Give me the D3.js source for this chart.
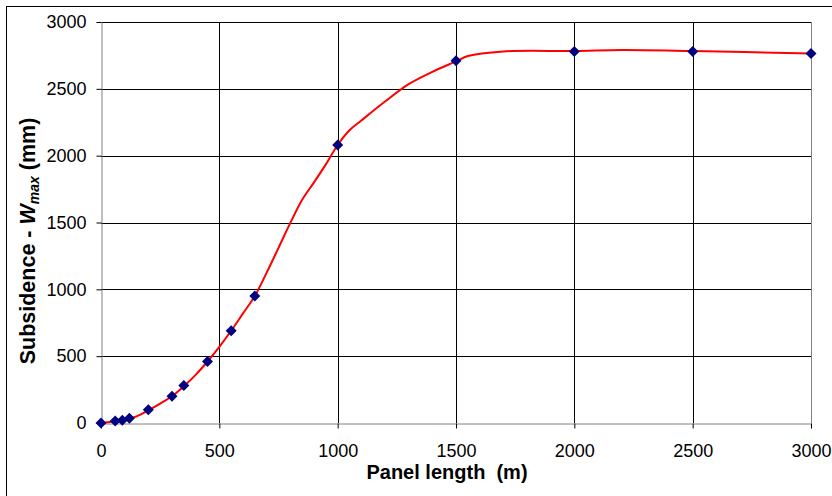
<!DOCTYPE html>
<html><head><meta charset="utf-8">
<script src="https://cdn.jsdelivr.net/npm/d3@7"></script>
<style>body{margin:0;background:#fff}svg{display:block}</style>
</head><body>
<svg id="c" width="832" height="496"></svg>
<script>
const xTicks = [0,500,1000,1500,2000,2500,3000];
const yTicks = [0,500,1000,1500,2000,2500,3000];
const pointX = [0,60,90,120,200,300,350,450,550,650,1000,1500,2000,2500,3000];
const pointY = [0,15,20,35,100,200,280,460,690,950,2080,2710,2780,2780,2765];
const lineX = [0,60,100,150,200,250,300,350,400,450,500,550,600,650,700,750,800,850,900,950,1000,1050,1100,1200,1300,1400,1500,1550,1700,2000,2200,2500,3000];
const lineY = [0,13,25,50,95,145,200,275,360,460,570,690,820,950,1125,1310,1497,1670,1800,1935,2080,2190,2263,2405,2535,2627,2705,2745,2780,2783,2790,2783,2765];

const svg = d3.select("#c");
const L=101,R=811,T=22,B=423;
const x = d3.scaleLinear().domain([0,3000]).range([L,R]);
const y = d3.scaleLinear().domain([0,3000]).range([B,T]);
const font = "'Liberation Sans', Arial, sans-serif";

svg.append("rect").attr("x",6.5).attr("y",6.5).attr("width",840).attr("height",520)
  .attr("fill","#fff").attr("stroke","#000").attr("stroke-width",1);

// gridlines
const g = svg.append("g");
g.selectAll(".hg").data(yTicks.filter(d=>d>0)).join("line")
  .attr("x1",L).attr("x2",R).attr("y1",d=>Math.round(y(d))+0.5).attr("y2",d=>Math.round(y(d))+0.5)
  .attr("stroke","#000").attr("stroke-width",1);
g.selectAll(".vg").data(xTicks.filter(d=>d>0&&d<3000)).join("line")
  .attr("y1",T).attr("y2",B).attr("x1",d=>Math.round(x(d))+0.5).attr("x2",d=>Math.round(x(d))+0.5)
  .attr("stroke","#000").attr("stroke-width",1);
g.append("line").attr("x1",Math.round(x(3000))+0.5).attr("x2",Math.round(x(3000))+0.5).attr("y1",T).attr("y2",B)
  .attr("stroke","#808080").attr("stroke-width",1);

// axes
const ya = svg.append("g").attr("transform",`translate(${L+0.5},0)`)
  .call(d3.axisLeft(y).tickValues(yTicks).tickSize(5).tickPadding(10).tickFormat(d3.format("d")));
const xa = svg.append("g").attr("transform",`translate(0,${B+0.5})`)
  .call(d3.axisBottom(x).tickValues(xTicks).tickSize(5).tickPadding(16).tickFormat(d3.format("d")));
[ya,xa].forEach(a=>{
  a.select(".domain").attr("stroke","#808080");
  a.selectAll(".tick line").attr("stroke","#000");
  a.selectAll("text").attr("font-family",font).attr("font-size",18).attr("fill","#000");
});

// line
svg.append("path").datum(lineX.map((d,i)=>[d,lineY[i]]))
  .attr("fill","none").attr("stroke","#ff0000").attr("stroke-width",2)
  .attr("d",d3.line().x(d=>x(d[0])).y(d=>y(d[1])).curve(d3.curveCatmullRom.alpha(0.5)));

// markers
const r = 5.5;
svg.selectAll(".pt").data(pointX.map((d,i)=>[d,pointY[i]])).join("path")
  .attr("transform",d=>`translate(${x(d[0])},${y(d[1])})`)
  .attr("d",`M0,${-r}L${r},0L0,${r}L${-r},0Z`)
  .attr("fill","#000080");

// titles
svg.append("text").attr("x",447).attr("y",479).attr("text-anchor","middle")
  .attr("font-family",font).attr("font-size",20).attr("font-weight","bold").attr("xml:space","preserve")
  .text("Panel length  (m)");
const yt = svg.append("text").attr("transform","translate(35,241) rotate(-90)").attr("text-anchor","middle")
  .attr("font-family",font).attr("font-size",21.5).attr("font-weight","bold");
yt.append("tspan").text("Subsidence - ");
yt.append("tspan").attr("font-style","italic").text("W");
yt.append("tspan").attr("font-style","italic").attr("font-size",14).attr("dy",4).text("max");
yt.append("tspan").attr("dy",-4).text(" (mm)");
</script>
</body></html>
